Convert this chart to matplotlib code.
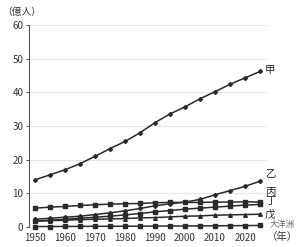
import matplotlib
matplotlib.use("Agg")
import matplotlib.pyplot as plt

plt.rcParams['font.family'] = ['Noto Sans CJK JP', 'DejaVu Sans']

# data (億人), every 5 years
years = list(range(1950, 2030, 5))
jia = [14.0, 15.5, 17.0, 18.8, 21.0, 23.3, 25.4, 28.0, 31.0, 33.6, 35.7, 38.1, 40.2, 42.4, 44.3, 46.2]
yi = [2.3, 2.6, 2.9, 3.2, 3.7, 4.2, 4.8, 5.5, 6.3, 6.9, 7.4, 8.2, 9.6, 10.8, 12.1, 13.6]
bing = [5.6, 5.9, 6.1, 6.4, 6.6, 6.8, 6.9, 7.0, 7.2, 7.3, 7.3, 7.3, 7.4, 7.4, 7.5, 7.4]
ding = [1.8, 2.0, 2.3, 2.6, 2.9, 3.2, 3.6, 4.0, 4.5, 4.9, 5.3, 5.6, 5.9, 6.2, 6.5, 6.7]
wu = [1.7, 1.9, 2.0, 2.2, 2.3, 2.4, 2.5, 2.7, 2.8, 3.0, 3.2, 3.3, 3.5, 3.6, 3.7, 3.8]
oceania = [0.13, 0.14, 0.16, 0.18, 0.20, 0.21, 0.23, 0.25, 0.27, 0.29, 0.31, 0.33, 0.36, 0.39, 0.43, 0.45]

x_ticks = [1950, 1960, 1970, 1980, 1990, 2000, 2010, 2020]
y_ticks = [0, 10, 20, 30, 40, 50, 60]

series = [
    (jia, 'D', 2.0, '甲', 46.7),
    (yi, 'D', 2.0, '乙', 15.6),
    (bing, 's', 2.4, '丙', 10.5),
    (ding, 's', 2.4, '丁', 7.6),
    (wu, '^', 2.6, '戊', 3.7),
    (oceania, 's', 2.4, '', 0),
]

fig = plt.figure(figsize=(3.03, 2.47), dpi=100)
ax = fig.add_axes([29 / 303, 1 - 227 / 247, 238 / 303, 202 / 247])

line_col = '#2a2a2a'
for vals, mk, ms, name, ly in series:
    ax.plot(years, vals, color=line_col, lw=1.1, marker=mk, ms=ms,
            mec=line_col, mfc=line_col, clip_on=False, zorder=3)
    if name:
        ax.text(2026.6, ly, name, fontsize=7.5, color='#222222',
                ha='left', va='center')

ax.text(2028.3, 0.6, '大洋洲', fontsize=6, color='#666666',
        ha='left', va='center')

ax.set_xlim(1948, 2027.3)
ax.set_ylim(0, 60)
ax.set_xticks(x_ticks)
ax.set_yticks(y_ticks)
ax.tick_params(labelsize=7, colors='#333333', length=2, width=0.6, pad=2)
ax.tick_params(axis='x', length=0, pad=4)
ax.grid(axis='y', color='#e6e6e6', lw=0.8)
ax.set_axisbelow(True)
for side in ['top', 'right']:
    ax.spines[side].set_visible(False)
ax.spines['left'].set_color('#555555')
ax.spines['left'].set_linewidth(0.8)
ax.spines['bottom'].set_visible(False)

fig.text(2 / 303, 1 - 12 / 247, '（億人）', fontsize=7, color='#333333',
         ha='left', va='center')
fig.text(267 / 303, 1 - 237 / 247, '（年）', fontsize=7.5, color='#333333',
         ha='left', va='center')

fig.savefig('out.png', dpi=100, facecolor='white')
